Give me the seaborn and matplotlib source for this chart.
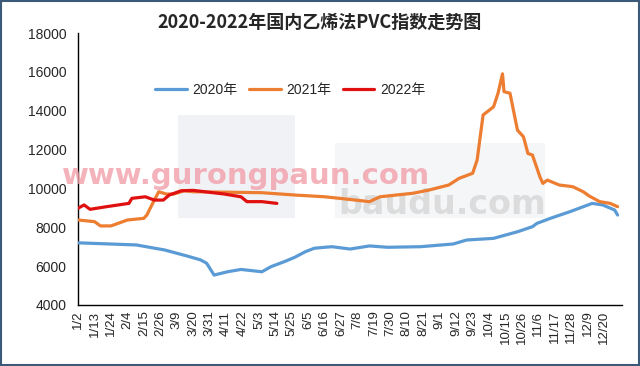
import numpy as np
import pandas as pd
import matplotlib
matplotlib.use("Agg")
import matplotlib.pyplot as plt
import seaborn as sns
from matplotlib.patches import Rectangle

# ---- data ----
tick_labels = ["1/2", "1/13", "1/24", "2/4", "2/15", "2/26", "3/9", "3/20", "3/31",
               "4/11", "4/22", "5/3", "5/14", "5/25", "6/5", "6/16", "6/27", "7/8",
               "7/19", "7/30", "8/10", "8/21", "9/1", "9/12", "9/23", "10/4", "10/15",
               "10/26", "11/6", "11/17", "11/28", "12/9", "12/20"]

dates_2020 = ["1/2", "2/10", "3/1", "3/16", "3/25", "3/29", "4/3", "4/12", "4/21", "5/5",
              "5/11", "5/20", "5/27", "6/3", "6/9", "6/16", "6/21", "7/3", "7/16", "7/28",
              "8/19", "9/10", "9/19", "10/7", "10/23", "11/2", "11/5", "11/14", "11/27",
              "12/12", "12/19", "12/27", "12/29"]
vals_2020 = [7200, 7090, 6830, 6520, 6320, 6150, 5540, 5710, 5830, 5710,
             5970, 6230, 6455, 6740, 6920, 6970, 7000, 6880, 7040, 6970,
             7000, 7140, 7345, 7430, 7770, 8030, 8200, 8460, 8800,
             9230, 9150, 8890, 8630]

dates_2021 = ["1/2", "1/13", "1/17", "1/24", "2/4", "2/15", "2/17", "2/22", "2/25", "3/2",
              "3/7", "3/14", "3/20", "5/5", "5/27", "6/16", "6/26", "7/16", "7/23", "8/14",
              "8/25", "9/7", "9/14", "9/23", "9/26", "9/30", "10/7", "10/10", "10/13",
              "10/14", "10/18", "10/23", "10/27", "10/30", "11/2", "11/7", "11/9", "11/12",
              "11/20", "11/29", "12/6", "12/10", "12/17", "12/24", "12/29"]
vals_2021 = [8375, 8290, 8070, 8070, 8375, 8460, 8630, 9400, 9830, 9710,
             9710, 9880, 9830, 9780, 9660, 9570, 9490, 9320, 9570, 9750,
             9920, 10175, 10520, 10780, 11460, 13780, 14200, 14900, 15900,
             14980, 14900, 13000, 12660, 11800, 11720, 10600, 10260, 10430,
             10175, 10090, 9830, 9610, 9320, 9230, 9060]

dates_2022 = ["1/2", "1/6", "1/10", "1/21", "2/5", "2/7", "2/16", "2/22", "2/28", "3/4",
              "3/12", "3/20", "4/10", "4/21", "4/25", "5/5", "5/15"]
vals_2022 = [8980, 9150, 8925, 9060, 9230, 9490, 9570, 9400, 9400, 9660,
             9880, 9900, 9710, 9570, 9320, 9320, 9230]

series_names = ["2020年", "2021年", "2022年"]
colors = ["#5B9BD5", "#ED7D31", "#E01010"]


def doy(md):
    return pd.Timestamp("2021/" + md).dayofyear


frames = []
for name, ds, vs in zip(series_names, [dates_2020, dates_2021, dates_2022],
                        [vals_2020, vals_2021, vals_2022]):
    frames.append(pd.DataFrame({"day": [doy(d) for d in ds], "value": vs, "year": name}))
df = pd.concat(frames, ignore_index=True)

# ---- plot ----
sns.set_style("white")
plt.rcParams["font.family"] = ["Liberation Sans", "Noto Sans CJK SC", "DejaVu Sans"]

fig = plt.figure(figsize=(6.4, 3.66), dpi=100)
ax = fig.add_axes([0.122, 0.1667, 0.85, 0.7431])

# faint watermark backgrounds (drawn inside the axes, below the lines)
ax.add_patch(Rectangle((178 / 640, 1 - 218 / 366), 117 / 640, 103 / 366,
                       transform=fig.transFigure, facecolor="#F1F2F5",
                       edgecolor="none", zorder=0.5, clip_on=False))
ax.add_patch(Rectangle((335 / 640, 1 - 218 / 366), 210 / 640, 75 / 366,
                       transform=fig.transFigure, facecolor="#F5F6F8",
                       edgecolor="none", zorder=0.5, clip_on=False))

# watermarks
ax.text(0.478, 0.368, "baudu.com", transform=ax.transAxes, fontsize=24,
        color="#DCDCDC", ha="left", va="center", zorder=1, fontweight="bold",
        family=["DejaVu Sans"])
fig.text(62 / 640, 1 - 176 / 366, "www.gurongpaun.com", fontsize=21, fontweight="bold",
         color="#F2A0AA", alpha=0.8, ha="left", va="center", zorder=5,
         family=["DejaVu Sans"])

sns.lineplot(data=df, x="day", y="value", hue="year", hue_order=series_names,
             palette=colors, linewidth=2.3, ax=ax, zorder=3, legend=True)

ax.set_xlim(2, 366)
ax.set_ylim(4000, 18000)
ax.set_yticks(np.arange(4000, 18001, 2000))
ax.set_xticks([doy(t) for t in tick_labels])
ax.set_xticklabels(tick_labels, rotation=90, fontsize=9.5)
ax.tick_params(axis="y", labelsize=10, direction="out", length=5, width=1, color="black")
ax.tick_params(axis="x", direction="in", length=4, width=1, color="black", pad=4)
ax.set_xlabel("")
ax.set_ylabel("")
for s in ["top", "right"]:
    ax.spines[s].set_visible(False)
for s in ["left", "bottom"]:
    ax.spines[s].set_color("black")
    ax.spines[s].set_linewidth(1.0)

leg = ax.legend(loc="center", bbox_to_anchor=(0.39, 0.79), ncol=3, frameon=False,
                handlelength=2.3, columnspacing=0.8, handletextpad=0.4,
                prop={"family": ["Liberation Sans", "Noto Sans CJK SC"], "size": 10})
for line in leg.get_lines():
    line.set_linewidth(2.3)

fig.text(0.5, 0.938, "2020-2022年国内乙烯法PVC指数走势图", ha="center", va="center",
         fontsize=13, fontweight="bold", family=["Noto Sans CJK SC", "DejaVu Sans"])

fig.patches.append(Rectangle((0.002, 0.003), 0.996, 0.994, transform=fig.transFigure,
                             fill=False, edgecolor="#3A5A78", linewidth=1.5))

fig.savefig("out.png", dpi=100)
